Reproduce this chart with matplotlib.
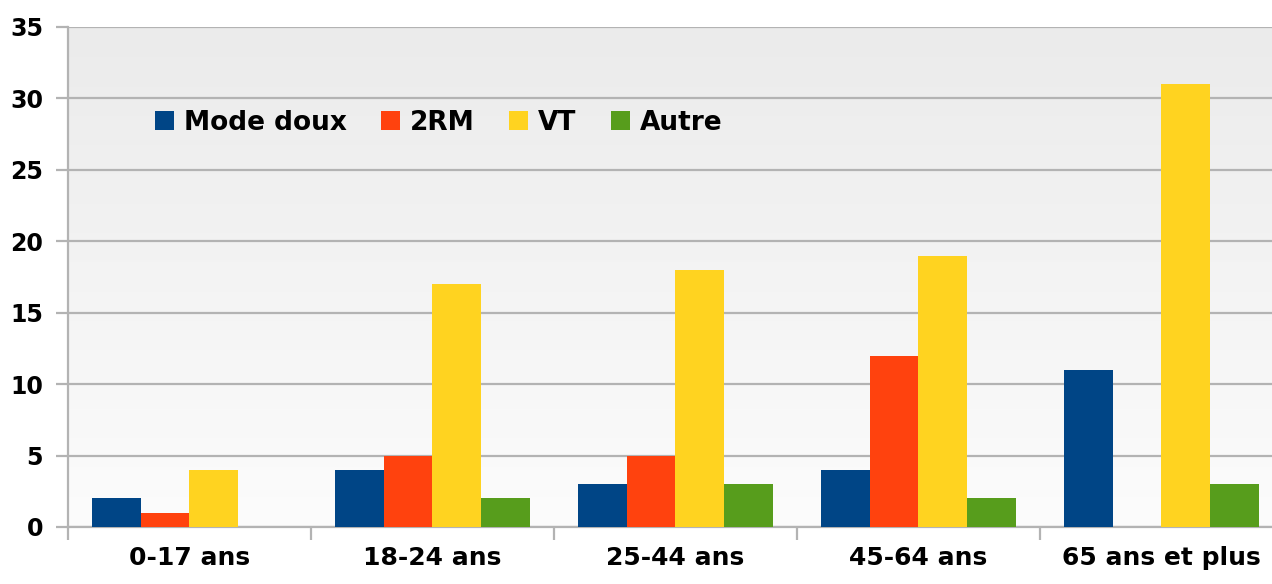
import matplotlib.pyplot as plt
import numpy as np

# Tranches d'âge et valeurs par mode
categories = ['0-17 ans', '18-24 ans', '25-44 ans', '45-64 ans', '65 ans et plus']
series_names = ['Mode doux', '2RM', 'VT', 'Autre']
mode_doux = [2, 4, 3, 4, 11]
deux_rm = [1, 5, 5, 12, 0]
vt = [4, 17, 18, 19, 31]
autre = [0, 2, 3, 2, 3]
colors = ['#004586', '#ff420e', '#ffd320', '#579d1c']

plt.rcParams['font.family'] = 'DejaVu Sans'
plt.rcParams['font.weight'] = 'bold'

fig = plt.figure(figsize=(12.72, 5.84), dpi=100)
ax = fig.add_axes([68 / 1272, 1 - 527 / 584, 1 - 68 / 1272, 500 / 584])

# fond en dégradé gris clair
grad = np.linspace(0, 1, 256).reshape(-1, 1)
ax.imshow(grad, cmap=plt.matplotlib.colors.LinearSegmentedColormap.from_list('bg', ['#ebebeb', '#fcfcfc']),
          extent=[0, 1, 0, 1], transform=ax.transAxes, aspect='auto', zorder=0)

x = np.arange(len(categories))
width = 0.2
data = [mode_doux, deux_rm, vt, autre]
for i, (name, vals) in enumerate(zip(series_names, data)):
    ax.bar(x - 0.3 + i * width, vals, width, color=colors[i], label=name, zorder=3)

ax.set_xlim(-0.5, 4.455)
ax.set_ylim(0, 35)
ax.set_yticks(range(0, 36, 5))
ax.grid(axis='y', color='#b3b3b3', linewidth=1.6, zorder=1)
ax.set_axisbelow(True)

for s in ['top', 'right']:
    ax.spines[s].set_visible(False)
ax.spines['left'].set_color('#b3b3b3')
ax.spines['left'].set_linewidth(1.6)
ax.spines['bottom'].set_color('#b3b3b3')
ax.spines['bottom'].set_linewidth(1.6)

ax.set_xticks(x)
ax.set_xticklabels(categories, fontsize=18, fontweight='bold')
ax.set_xticks(np.arange(-0.5, 4.5, 1), minor=True)
ax.tick_params(axis='x', which='major', length=0, pad=14)
ax.tick_params(axis='x', which='minor', length=9, width=1.6, color='#b3b3b3')
ax.tick_params(axis='y', length=9, width=1.6, color='#b3b3b3', pad=9, labelsize=17)
for lab in ax.get_yticklabels():
    lab.set_fontweight('bold')

ax.legend(loc='center left', bbox_to_anchor=(0.072, 0.808), ncol=4, frameon=False,
          fontsize=19, handlelength=0.72, handleheight=0.72, handletextpad=0.38,
          columnspacing=1.3, borderpad=0, borderaxespad=0,
          prop={'weight': 'bold', 'size': 19})

plt.savefig('out.png', dpi=100)
